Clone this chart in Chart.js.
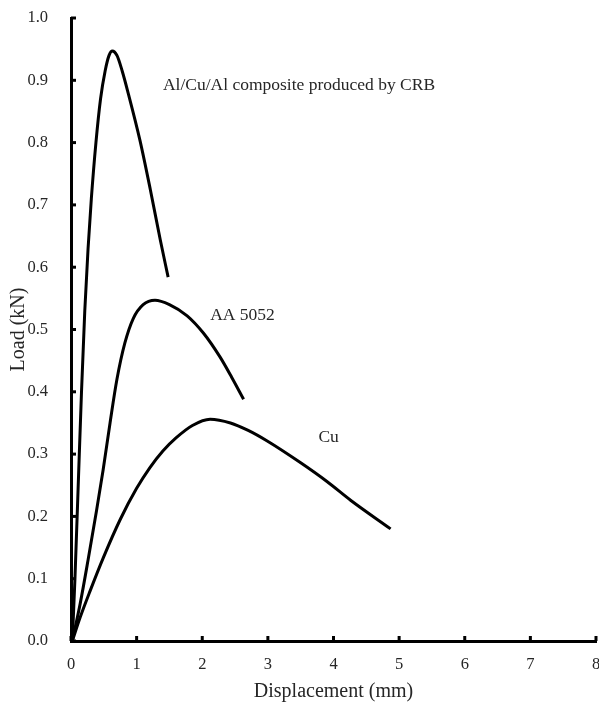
<!DOCTYPE html>
<html>
<head>
<meta charset="utf-8">
<script src="https://cdn.jsdelivr.net/npm/chart.js@4"></script>
<style>
  html, body { margin: 0; padding: 0; background: #fff; }
  #wrap { width: 599px; height: 704px; }
</style>
</head>
<body>
<div id="wrap"><canvas id="load-chart" width="599" height="704"></canvas></div>
<script>
// curves: displacement (mm) / load (kN)
const compositeX = [0.02, 0.06, 0.11, 0.16, 0.21, 0.26, 0.31, 0.38, 0.45, 0.52, 0.58, 0.63, 0.7, 0.78, 0.87, 1.05, 1.21, 1.36, 1.48];
const compositeY = [0, 0.1, 0.25, 0.4, 0.53, 0.63, 0.71, 0.8, 0.87, 0.915, 0.94, 0.947, 0.94, 0.915, 0.88, 0.804, 0.724, 0.644, 0.584];
const aa5052X = [0.02, 0.14, 0.26, 0.39, 0.49, 0.595, 0.7, 0.82, 0.95, 1.1, 1.28, 1.5, 1.77, 2.02, 2.27, 2.45, 2.63];
const aa5052Y = [0, 0.06, 0.13, 0.21, 0.275, 0.35, 0.42, 0.478, 0.518, 0.54, 0.547, 0.54, 0.522, 0.494, 0.456, 0.423, 0.388];
const cuX = [0.02, 0.14, 0.29, 0.49, 0.75, 1.0, 1.2, 1.4, 1.6, 1.85, 2.12, 2.43, 2.7, 2.99, 3.5, 3.9, 4.26, 4.87];
const cuY = [0, 0.038, 0.08, 0.133, 0.195, 0.245, 0.278, 0.305, 0.326, 0.346, 0.356, 0.35, 0.338, 0.321, 0.286, 0.256, 0.226, 0.18];

const xTicks = [0, 1, 2, 3, 4, 5, 6, 7, 8];
const yTicks = [0, 0.1, 0.2, 0.3, 0.4, 0.5, 0.6, 0.7, 0.8, 0.9, 1.0];

const curveLabels = ['Al/Cu/Al composite produced by CRB', 'AA 5052', 'Cu'];
const curveLabelX = [1.4, 2.12, 3.77];
const curveLabelY = [0.892, 0.523, 0.326];

const toPoints = (xs, ys) => xs.map((x, i) => ({ x: x, y: ys[i] }));

const serif = '"Liberation Serif", "Times New Roman", serif';
const textColor = '#262626';

function curve(label, xs, ys) {
    return {
        label: label,
        data: toPoints(xs, ys),
        showLine: true,
        borderColor: '#000',
        borderWidth: 3,
        pointRadius: 0,
        cubicInterpolationMode: 'monotone',
        fill: false
    };
}

// inward tick marks + curve captions
const extras = {
    id: 'extras',
    afterDatasetsDraw(chart) {
        const ctx = chart.ctx;
        const xs = chart.scales.x, ys = chart.scales.y;
        ctx.save();
        ctx.strokeStyle = '#000';
        ctx.lineWidth = 3;
        xTicks.forEach(t => {
            const px = xs.getPixelForValue(t);
            ctx.beginPath();
            ctx.moveTo(px, ys.bottom);
            ctx.lineTo(px, ys.bottom - 5);
            ctx.stroke();
        });
        yTicks.forEach(t => {
            const py = ys.getPixelForValue(t);
            ctx.beginPath();
            ctx.moveTo(xs.left, py);
            ctx.lineTo(xs.left + 5, py);
            ctx.stroke();
        });
        ctx.fillStyle = textColor;
        ctx.font = '17.5px ' + serif;
        ctx.textAlign = 'left';
        ctx.textBaseline = 'middle';
        curveLabels.forEach((txt, i) => {
            ctx.fillText(txt, xs.getPixelForValue(curveLabelX[i]), ys.getPixelForValue(curveLabelY[i]));
        });
        ctx.restore();
    }
};

const ctx = document.getElementById('load-chart').getContext('2d');
const loadChart = new Chart(ctx, {
    type: 'scatter',
    data: {
        datasets: [
            curve('Al/Cu/Al composite', compositeX, compositeY),
            curve('AA 5052', aa5052X, aa5052Y),
            curve('Cu', cuX, cuY)
        ]
    },
    options: {
        responsive: false,
        animation: false,
        layout: { padding: { top: 18, right: 3, left: 0, bottom: 0 } },
        plugins: {
            legend: { display: false },
            tooltip: { enabled: false }
        },
        scales: {
            x: {
                type: 'linear',
                min: 0,
                max: 8,
                afterBuildTicks: (s) => { s.ticks = xTicks.map(v => ({ value: v })); },
                afterFit: (s) => { s.height = 63; s.paddingLeft = 0; s.paddingRight = 0; },
                grid: { display: false },
                border: { color: '#000', width: 3 },
                ticks: {
                    color: textColor,
                    padding: 6,
                    font: { family: serif, size: 16.5 },
                    callback: (v) => String(v)
                },
                title: {
                    display: true,
                    text: 'Displacement (mm)',
                    color: textColor,
                    font: { family: serif, size: 20 },
                    padding: { top: 0, bottom: 0 }
                }
            },
            y: {
                type: 'linear',
                min: 0,
                max: 1.0,
                afterBuildTicks: (s) => { s.ticks = yTicks.map(v => ({ value: v })); },
                afterFit: (s) => { s.width = 71; s.paddingTop = 0; s.paddingBottom = 0; },
                grid: { display: false },
                border: { color: '#000', width: 3 },
                ticks: {
                    color: textColor,
                    padding: 15,
                    font: { family: serif, size: 16.5 },
                    callback: (v) => v.toFixed(1)
                },
                title: {
                    display: true,
                    text: 'Load (kN)',
                    color: textColor,
                    font: { family: serif, size: 20 },
                    padding: { top: 7, bottom: 0 }
                }
            }
        }
    },
    plugins: [extras]
});
</script>
</body>
</html>
